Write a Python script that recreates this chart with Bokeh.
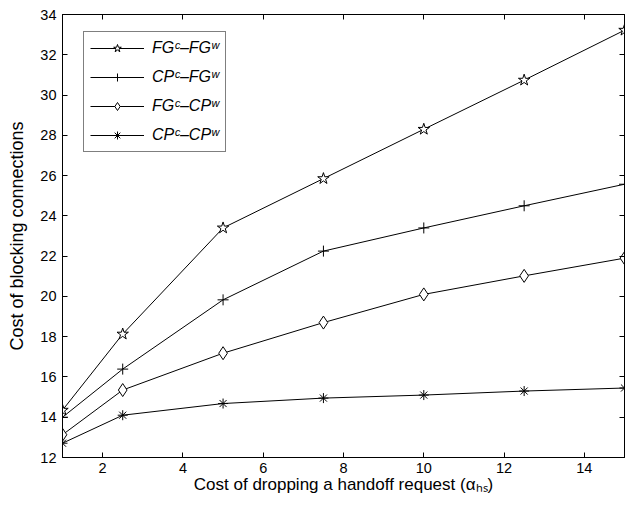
from bokeh.plotting import figure
from bokeh.models import (Range1d, LinearAxis, FixedTicker, Legend, LegendItem,
                          CustomJSTickFormatter)
from bokeh.core.properties import value
from bokeh.embed import file_html
from bokeh.resources import INLINE

# Cost of dropping a handoff request (x) and cost of blocking connections (y)
handoff_cost = [1, 2.5, 5, 7.5, 10, 12.5, 15]
fg_fg = [14.35, 18.13, 23.4, 25.85, 28.3, 30.74, 33.22]
cp_fg = [14.0, 16.39, 19.83, 22.25, 23.4, 24.5, 25.57]
fg_cp = [13.13, 15.35, 17.18, 18.7, 20.1, 21.02, 21.9]
cp_cp = [12.71, 14.1, 14.68, 14.95, 15.1, 15.3, 15.45]

series_labels = ["FGᶜ–FGʷ", "CPᶜ–FGʷ", "FGᶜ–CPʷ", "CPᶜ–CPʷ"]
series_markers = ["star", "cross", "diamond", "asterisk"]
marker_sizes = [12, 11, 13, 10]

x_ticks = [2, 4, 6, 8, 10, 12, 14]
y_ticks = [12, 14, 16, 18, 20, 22, 24, 26, 28, 30, 32, 34]

y_title = "Cost of blocking connections"
x_title = "Cost of dropping a handoff request (αₕₛ)"

FONT = "Liberation Sans"

p = figure(width=637, height=515, x_range=Range1d(1, 15), y_range=Range1d(12, 34),
           output_backend="svg", toolbar_location=None,
           min_border_left=62, min_border_right=13, min_border_top=14, min_border_bottom=58)
p.background_fill_color = "white"
p.border_fill_color = "white"
p.outline_line_color = "black"
p.outline_line_width = 1
p.xgrid.visible = False
p.ygrid.visible = False


def style_axis(ax, ticks, show_labels):
    ax.ticker = FixedTicker(ticks=ticks)
    ax.axis_line_color = "black"
    ax.major_tick_line_color = "black"
    ax.major_tick_in = 5
    ax.major_tick_out = 0
    ax.minor_tick_line_color = None
    ax.major_label_text_font = FONT
    ax.major_label_text_font_size = "14.5px"
    ax.major_label_text_color = "black"
    ax.axis_label_text_font = FONT
    ax.axis_label_text_font_size = "18px"
    ax.axis_label_text_font_style = "normal"
    ax.axis_label_text_color = "black"
    if not show_labels:
        ax.formatter = CustomJSTickFormatter(code="return ''")
        ax.major_label_standoff = 0


style_axis(p.xaxis[0], x_ticks, True)
style_axis(p.yaxis[0], y_ticks, True)
p.xaxis[0].major_label_standoff = 5
p.yaxis[0].major_label_standoff = 6

p.xaxis[0].axis_label = x_title
p.xaxis[0].axis_label_text_font_size = "17px"
p.xaxis[0].axis_label_standoff = -1

p.yaxis[0].axis_label = y_title
p.yaxis[0].axis_label_standoff = 10

# mirrored tick marks on the top and right edges of the box
top_axis = LinearAxis()
right_axis = LinearAxis()
style_axis(top_axis, x_ticks, False)
style_axis(right_axis, y_ticks, False)
p.add_layout(top_axis, "above")
p.add_layout(right_axis, "right")

items = []
for ys, lbl, mk, sz in zip([fg_fg, cp_fg, fg_cp, cp_cp], series_labels, series_markers, marker_sizes):
    ln = p.line(handoff_cost, ys, line_color="black", line_width=1)
    sc = p.scatter(handoff_cost, ys, marker=mk, size=sz, line_color="black",
                   line_width=1, fill_color="white")
    items.append(LegendItem(label=value(lbl), renderers=[ln, sc]))

legend = Legend(items=items, location=(21, 305), margin=0, padding=6, spacing=9,
                glyph_width=54, glyph_height=20, label_height=20, label_standoff=8,
                label_text_font=FONT, label_text_font_style="italic",
                label_text_font_size="16px", label_text_color="black",
                border_line_color="black", border_line_width=1,
                background_fill_color="white", background_fill_alpha=1.0)
p.add_layout(legend)

open("out.html", "w").write(file_html(p, INLINE))
